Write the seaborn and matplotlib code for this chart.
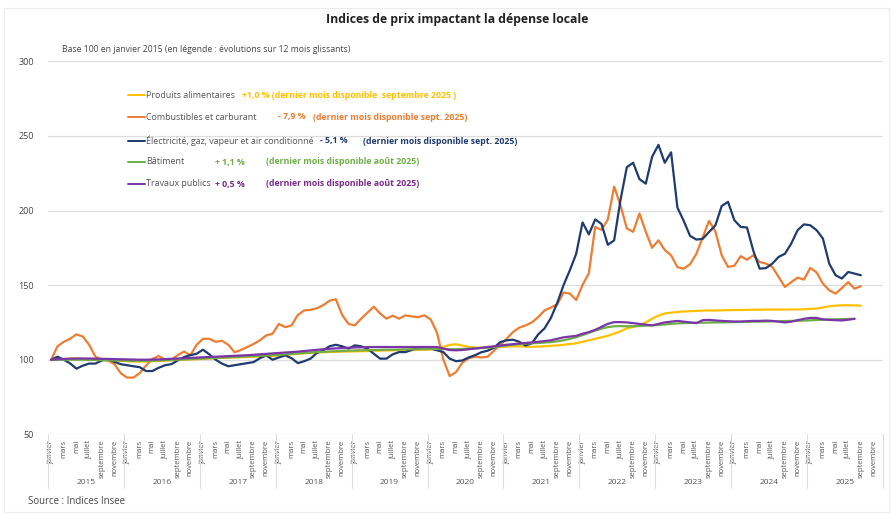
import pandas as pd
import matplotlib.pyplot as plt
import matplotlib.transforms as mtransforms
from matplotlib.lines import Line2D
from matplotlib.patches import Rectangle
import seaborn as sns

# Données : indices mensuels, base 100 en janvier 2015
annees = [str(a) for a in range(2015, 2026)]
mois_labels = ['janvier', 'mars', 'mai', 'juillet', 'septembre', 'novembre']

alimentaires = [
    100, 100.3, 100.5, 100.8, 100.8, 100.5, 100.3, 100, 99.8, 99.7, 99.5, 99.3,
    99, 98.8, 98.7, 98.8, 99, 99.2, 99.4, 99.6, 99.8, 100, 100.2, 100.3,
    100.5, 100.8, 101, 101.2, 101.3, 101.5, 101.7, 101.8, 102, 102.2, 102.4, 102.6,
    102.8, 103.2, 103.6, 104, 104.3, 104.6, 104.8, 105, 105.2, 105.3, 105.4, 105.5,
    105.6, 105.7, 105.8, 106, 106.1, 106.2, 106.3, 106.4, 106.5, 106.5, 106.6, 106.7,
    106.8, 107.5, 108.5, 110, 110.3, 109.5, 108.5, 108, 108, 108.2, 108.4, 108.6,
    108.8, 109, 109, 108.8, 108.6, 108.8, 109, 109.3, 109.6, 110, 110.5, 111,
    112, 113, 114, 115, 116, 117.5, 119, 121, 122, 123, 125, 127.5,
    129.5, 131, 131.5, 132, 132.3, 132.5, 132.7, 132.9, 133, 133, 133.1, 133.2,
    133.3, 133.3, 133.4, 133.5, 133.5, 133.6, 133.6, 133.6, 133.6, 133.7, 133.7, 133.8,
    134, 134.3, 135, 135.8, 136.2, 136.5, 136.5, 136.4, 136.2,
]

combustibles = [
    100, 109, 112, 114, 117, 115.5, 110, 102, 100, 99.5, 97, 91,
    88, 88, 91, 96, 100.5, 102.5, 100, 100, 103, 105.5, 103, 110,
    114, 114, 112, 112.7, 110, 105, 106.5, 108.5, 110.5, 113, 116.3, 117.4,
    124, 121.8, 123, 130, 133, 133.4, 134.5, 136.5, 139.5, 140.5, 130, 124,
    123, 127.5, 131.5, 135.5, 131, 127.5, 129.5, 127.5, 129.7, 129, 128.5, 129.7,
    127, 118, 100, 89, 91.7, 98, 101, 102, 101.5, 102, 106, 110,
    114, 118.5, 121.5, 123, 125, 128.6, 133, 135, 137, 145, 144.3, 140,
    150, 158, 189, 187, 194, 216, 203.5, 188, 185.7, 198, 185.7, 175,
    180, 173.5, 170, 162, 161, 164, 171, 182, 193, 186, 170, 162.2,
    163, 169.4, 167, 170, 165.5, 164.4, 162.2, 155.4, 148.7, 152, 155, 153.7,
    161.5, 158.5, 151, 146.5, 144.3, 148, 152, 147.6, 149.3,
]

electricite = [
    100, 102, 100, 97.5, 94, 96, 97.4, 97.4, 99.5, 100.5, 98.5, 97,
    96.3, 95.6, 95, 92.4, 92.4, 94.6, 96.3, 97, 99.5, 101.8, 103, 104,
    106.7, 103.6, 100, 97.4, 95.6, 96.3, 97, 97.7, 98.4, 101, 102.9, 100,
    101.5, 102.9, 101, 97.7, 99, 100.7, 104.5, 106.3, 109, 110, 109, 107.4,
    109.6, 109, 107.4, 104, 100.7, 100.7, 103.6, 105.1, 105.1, 106.5, 108, 107.4,
    107.4, 106.3, 105.1, 100.7, 99, 99.5, 101.5, 103, 105, 106, 108, 111.8,
    113, 113.4, 112, 109.5, 111, 117, 121, 128, 138, 150, 160, 171,
    192, 184, 194, 191, 177, 180, 207, 229, 232, 221, 218, 236,
    244, 232, 239, 202, 193, 183, 180.5, 181, 185.6, 190, 203, 205.8,
    193.5, 189, 188.6, 173, 161, 161.4, 164.4, 168.9, 171, 177.9, 186.8, 190.7,
    190.1, 186.8, 181.2, 164.4, 156.6, 154.4, 158.8, 157.7, 156.6,
]

batiment = [
    100, 100, 100, 100, 100, 100, 99.8, 99.8, 99.7, 99.6, 99.5, 99.5,
    99.4, 99.3, 99.3, 99.3, 99.4, 99.5, 99.6, 99.8, 100, 100.2, 100.4, 100.6,
    100.8, 101, 101.2, 101.4, 101.6, 101.8, 102, 102.2, 102.4, 102.6, 102.8, 103,
    103.3, 103.6, 103.9, 104.2, 104.5, 104.8, 105.1, 105.3, 105.5, 105.7, 105.9, 106.1,
    106.2, 106.3, 106.4, 106.5, 106.6, 106.7, 106.7, 106.8, 106.9, 107, 107, 107.1,
    107.2, 107.2, 107.2, 107, 107, 107.2, 107.4, 107.6, 107.8, 108, 108.5, 109,
    109.5, 110, 110.5, 110.8, 111, 111.2, 111.5, 111.8, 112.3, 113, 114, 115,
    116.5, 118, 119.5, 120.8, 121.8, 122.4, 122.5, 122.4, 122.4, 122.6, 122.8, 123,
    123.3, 123.6, 124, 124.3, 124.5, 124.7, 124.8, 124.8, 124.9, 125, 125, 125.1,
    125.2, 125.3, 125.4, 125.5, 125.5, 125.6, 125.7, 125.8, 125.9, 126, 126.1, 126.2,
    126.4, 126.6, 126.8, 127, 127.1, 127.2, 127.3, 127.4,
]

travaux = [
    100, 100.3, 100.5, 100.7, 100.8, 100.8, 100.8, 100.7, 100.6, 100.5, 100.4, 100.3,
    100.2, 100.1, 100, 100, 100.1, 100.2, 100.4, 100.6, 100.8, 101, 101.2, 101.4,
    101.6, 101.8, 102, 102.2, 102.4, 102.6, 102.8, 103, 103.3, 103.6, 103.9, 104.2,
    104.5, 104.8, 105.1, 105.4, 105.8, 106.2, 106.6, 107, 107.3, 107.6, 107.8, 108,
    108.2, 108.3, 108.4, 108.5, 108.5, 108.5, 108.5, 108.5, 108.5, 108.5, 108.5, 108.5,
    108.5, 108.5, 107.5, 106.5, 106.3, 106.5, 107, 107.5, 108, 108.5, 109, 109.5,
    110, 110.4, 110.8, 111.2, 111.6, 112, 112.5, 113, 114, 115, 115.5, 116,
    117.4, 118.5, 120, 122, 124, 125.2, 125.2, 125, 124.5, 124, 123.5, 123,
    124, 125, 125.5, 126, 125.5, 125, 124.5, 126.5, 126.7, 126.3, 126, 125.8,
    125.6, 125.6, 125.8, 126, 126, 126.2, 126, 125.5, 125, 125.5, 126.5, 127.4,
    128, 128, 127, 126.7, 126.5, 126.3, 126.8, 127.4,
]

noms = ['Produits alimentaires', 'Combustibles et carburant',
        'Électricité, gaz, vapeur et air conditionné', 'Bâtiment', 'Travaux publics']
evolutions = ['+1,0 %', '- 7,9 %', '- 5,1 %', '+ 1,1 %', '+ 0,5 %']
dispo = ['(dernier mois disponible  septembre 2025 )',
         '(dernier mois disponible sept. 2025)',
         '(dernier mois disponible sept. 2025)',
         '(dernier mois disponible août 2025)',
         '(dernier mois disponible août 2025)']
couleurs = ['#FFC000', '#ED7D31', '#1F3B70', '#70AD47', '#7A35A8']
couleurs_texte = ['#FFC000', '#ED7D31', '#1F3B70', '#70AD47', '#7A2A8C']

valeurs = [alimentaires, combustibles, electricite, batiment, travaux]
lignes = []
for nom, serie in zip(noms, valeurs):
    for i, v in enumerate(serie):
        lignes.append({'mois': i, 'indice': v, 'serie': nom})
df = pd.DataFrame(lignes)

sns.set_theme(style='white')
plt.rcParams['font.family'] = ['Open Sans', 'DejaVu Sans']

W, H = 893, 515
fig = plt.figure(figsize=(W / 100, H / 100), dpi=100)
fig.patch.set_facecolor('white')
fig.add_artist(Rectangle((4 / W, 1 - 512 / H), 885 / W, 504 / H, transform=fig.transFigure,
                         fill=False, edgecolor='#ececec', linewidth=0.8))

ax = fig.add_axes([48 / W, 1 - 434.3 / H, (883 - 48) / W, (434.3 - 61.3) / H])
sns.lineplot(data=df, x='mois', y='indice', hue='serie', hue_order=noms,
             palette=dict(zip(noms, couleurs)), linewidth=1.6, legend=False, ax=ax)

ax.set_xlim(-0.5, 12 * len(annees) - 0.5)
ax.set_ylim(50, 300)
ax.set_yticks(range(50, 301, 50))
ax.tick_params(axis='y', labelsize=6.5, labelcolor='#444444', length=0, pad=10)
ax.yaxis.grid(True, color='#dddddd', linewidth=0.9)
ax.set_axisbelow(True)
for s in ax.spines.values():
    s.set_visible(False)
ax.set_xlabel('')
ax.set_ylabel('')

# axe des mois
positions = list(range(0, 12 * len(annees), 2))
ax.set_xticks(positions)
ax.set_xticklabels([mois_labels[k % 6] for k in range(len(positions))],
                   rotation=90, va='top', ha='center')
ax.tick_params(axis='x', labelsize=5.5, labelcolor='#555555', length=0, pad=4)

trans = mtransforms.blended_transform_factory(ax.transData, ax.transAxes)
for k, an in enumerate(annees):
    ax.text(12 * k + 5.5, -0.13, an, transform=trans, ha='center', va='center',
            fontsize=6, color='#555555')
for k in range(len(annees) + 1):
    ax.plot([12 * k - 0.5, 12 * k - 0.5], [0, -0.145], transform=trans,
            color='#dddddd', linewidth=0.8, clip_on=False)

# titres
fig.text(457 / W, 1 - 20 / H, 'Indices de prix impactant la dépense locale',
         ha='center', va='center', fontsize=8.8, fontweight='bold', color='#222222')
fig.text(62 / W, 1 - 49 / H,
         'Base 100 en janvier 2015 (en légende : évolutions sur 12 mois glissants)',
         ha='left', va='center', fontsize=6.2, color='#444444')
fig.text(28 / W, 1 - 502 / H, 'Source : Indices Insee', ha='left', va='center',
         fontsize=6.9, color='#444444')

# légende faite à la main
ys = [95, 117, 141, 162, 184]
x_evol = [242, 278, 320, 215, 215]
x_dispo = [None, 313, 363, 266, 266]
for k in range(5):
    yy = 1 - ys[k] / H
    fig.add_artist(Line2D([128 / W, 145 / W], [yy, yy], color=couleurs[k], linewidth=1.4))
    fig.text(146 / W, yy, noms[k], ha='left', va='center', fontsize=6.4, color='#555555')
    if x_dispo[k] is None:
        fig.text(x_evol[k] / W, yy, evolutions[k] + ' ' + dispo[k], ha='left', va='center',
                 fontsize=6.3, fontweight='bold', color=couleurs_texte[k])
    else:
        fig.text(x_evol[k] / W, yy, evolutions[k], ha='left', va='center',
                 fontsize=6.3, fontweight='bold', color=couleurs_texte[k])
        fig.text(x_dispo[k] / W, yy, dispo[k], ha='left', va='center',
                 fontsize=6.3, fontweight='bold', color=couleurs_texte[k])

fig.savefig('out.png', dpi=100)
